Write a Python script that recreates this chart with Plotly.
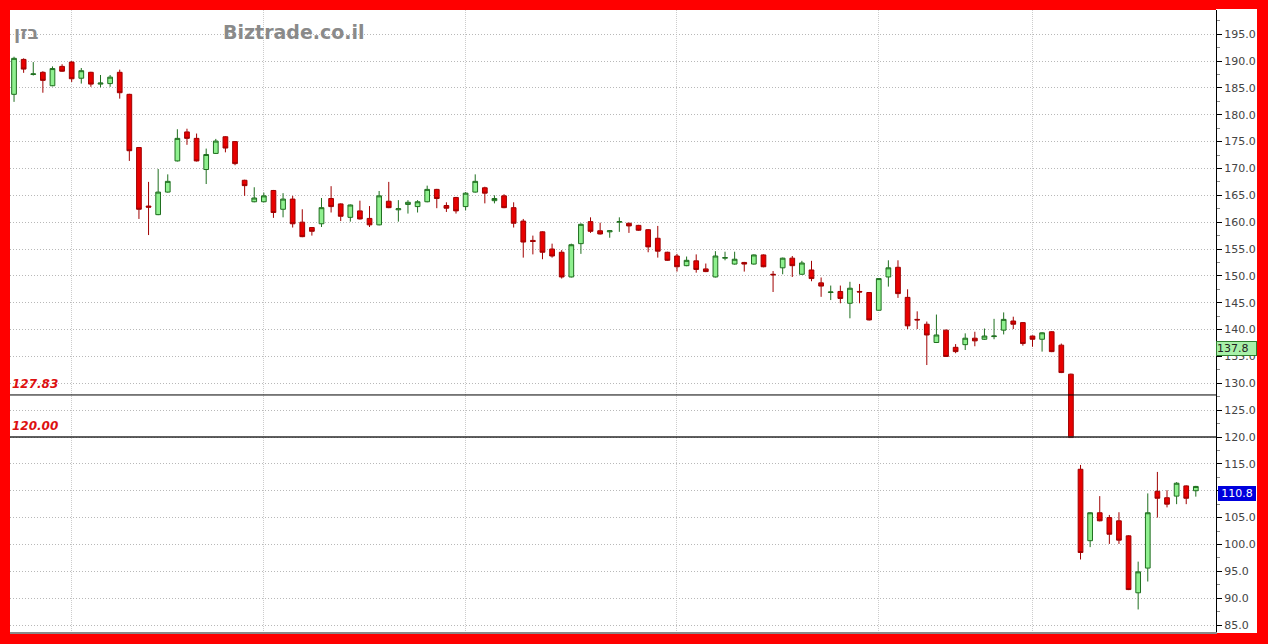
import plotly.graph_objects as go

# ---- data ----
opens = [183.8, 190.3, 187.5, 187.9, 185.4, 189.0, 189.8, 186.8, 187.9, 185.7,
         185.8, 187.9, 183.8, 173.9, 163.0, 161.4, 165.6, 171.4, 176.8, 175.6,
         169.8, 172.8, 175.9, 175.0, 167.8, 163.8, 163.8, 165.9, 162.4, 164.3,
         160.0, 159.0, 159.7, 164.4, 163.4, 160.9, 162.1, 160.7, 159.5, 163.9,
         162.3, 163.3, 162.9, 163.8, 166.1, 163.1, 164.6, 162.9, 165.6, 166.4,
         164.0, 164.9, 162.7, 160.2, 156.6, 158.2, 155.0, 154.4, 149.8, 156.0,
         160.1, 158.4, 158.2, 160.0, 159.8, 159.4, 158.6, 157.0, 154.4, 153.7,
         151.9, 152.8, 151.3, 149.8, 153.3, 152.2, 152.5, 152.2, 153.9, 150.3,
         151.5, 153.3, 150.3, 151.1, 148.7, 146.9, 147.1, 144.9, 147.1, 146.9,
         143.6, 149.8, 151.6, 146.0, 141.9, 141.0, 137.6, 139.9, 136.7, 137.2,
         138.4, 138.2, 138.7, 139.9, 141.6, 141.3, 138.8, 138.2, 139.6, 137.1,
         131.7, 114.0, 100.7, 105.9, 105.0, 104.4, 101.6, 91.0, 95.6, 109.9,
         108.7, 109.0, 110.9, 110.0]
highs = [190.8, 190.5, 189.8, 188.1, 189.0, 189.4, 190.0, 188.7, 188.0, 187.4,
         187.4, 188.4, 183.9, 174.0, 167.5, 169.9, 168.9, 177.3, 177.4, 176.5,
         173.7, 175.5, 176.0, 175.1, 167.9, 166.5, 165.5, 166.0, 165.4, 164.9,
         162.4, 159.1, 164.5, 166.7, 163.5, 163.3, 164.0, 163.0, 165.8, 167.5,
         164.1, 164.1, 164.1, 166.8, 166.2, 163.7, 164.7, 165.6, 168.9, 166.6,
         165.0, 165.2, 163.7, 160.6, 157.5, 158.3, 156.0, 154.8, 156.0, 159.8,
         160.9, 159.9, 158.5, 160.9, 159.9, 159.5, 158.7, 159.3, 154.5, 154.1,
         153.6, 154.0, 152.3, 154.6, 154.5, 154.5, 152.6, 154.0, 154.0, 150.9,
         153.4, 153.7, 152.8, 152.8, 149.7, 148.2, 148.2, 148.9, 148.5, 147.0,
         149.6, 152.9, 152.9, 147.5, 143.4, 141.5, 142.8, 140.0, 137.3, 139.3,
         139.6, 140.2, 142.0, 143.2, 142.4, 141.4, 138.9, 139.5, 139.7, 137.4,
         131.8, 114.8, 106.0, 109.0, 105.5, 106.0, 101.7, 96.8, 109.5, 113.5,
         110.1, 111.6, 111.0, 110.9]
lows = [182.4, 187.8, 187.3, 184.1, 185.3, 188.0, 186.1, 185.8, 185.2, 185.1,
        185.2, 183.0, 171.4, 160.6, 157.6, 161.3, 165.5, 171.3, 174.4, 171.3,
        167.1, 172.7, 173.0, 170.6, 164.9, 163.7, 163.7, 160.8, 160.9, 159.0,
        157.2, 157.5, 159.1, 161.8, 160.2, 160.1, 160.5, 159.1, 159.4, 162.6,
        160.1, 161.6, 161.8, 163.7, 162.6, 161.9, 161.6, 162.2, 165.5, 163.5,
        163.5, 162.6, 159.0, 153.4, 154.0, 153.1, 153.4, 149.5, 149.7, 154.1,
        158.0, 157.7, 157.1, 158.2, 158.0, 158.4, 154.4, 153.4, 152.8, 150.8,
        151.8, 150.6, 150.7, 149.7, 152.9, 152.1, 150.8, 152.1, 151.6, 147.0,
        150.3, 149.8, 150.2, 149.0, 146.1, 145.5, 144.9, 142.1, 144.9, 141.7,
        143.5, 148.0, 145.9, 140.1, 140.1, 133.4, 137.5, 134.9, 135.6, 136.2,
        136.9, 138.1, 138.2, 139.1, 140.1, 137.0, 136.8, 135.9, 135.8, 131.9,
        119.9, 97.2, 99.5, 104.3, 100.1, 100.1, 91.5, 87.9, 93.1, 105.0,
        106.9, 107.5, 107.5, 108.9]
closes = [190.5, 188.5, 187.6, 186.4, 188.6, 188.1, 186.7, 188.2, 185.7, 185.9,
          187.0, 184.1, 173.3, 162.4, 162.8, 165.6, 167.6, 175.6, 175.6, 171.4,
          172.6, 175.1, 173.8, 170.9, 166.8, 164.5, 164.9, 161.8, 164.3, 159.7,
          157.3, 158.3, 162.7, 162.9, 161.1, 163.2, 160.6, 159.5, 164.9, 162.7,
          162.5, 163.7, 163.8, 166.1, 164.4, 162.6, 162.1, 165.4, 167.6, 165.4,
          164.4, 162.7, 159.8, 156.3, 156.4, 154.4, 153.7, 149.8, 155.8, 159.6,
          158.3, 157.8, 158.4, 160.1, 159.3, 158.5, 155.4, 154.6, 152.9, 151.7,
          152.9, 151.2, 150.8, 153.7, 153.4, 153.1, 152.2, 153.9, 151.7, 150.2,
          153.3, 151.9, 152.4, 149.5, 148.1, 147.0, 145.8, 147.7, 147.0, 141.8,
          149.5, 151.5, 146.7, 140.7, 141.8, 139.0, 139.0, 135.0, 135.9, 138.4,
          137.9, 138.8, 138.8, 141.9, 141.0, 137.4, 138.2, 139.4, 135.9, 132.0,
          119.9, 98.5, 105.9, 104.4, 101.9, 100.8, 91.6, 94.9, 105.9, 108.6,
          107.5, 111.4, 108.6, 110.8]
days = list(range(len(closes)))

month_starts = [6, 26, 47, 69, 90, 106]     # vertical grid positions (bar index)
levels = [127.83, 120.00]                    # horizontal reference lines
level_labels = ["127.83", "120.00"]
ref_price = 137.8                            # green price tag
last_price = closes[-1]                      # blue price tag
stock_name = "בזן"
site_name = "Biztrade.co.il"

W, H = 1268, 644
ML, MR, MT, MB = 10, 52, 10, 12
PW = W - ML - MR
PH = H - MT - MB

fig = go.Figure()
fig.add_trace(go.Candlestick(
    x=days, open=opens, high=highs, low=lows, close=closes,
    increasing=dict(fillcolor="#8ff08f", line=dict(color="#1f6f1f", width=1)),
    decreasing=dict(fillcolor="#e80000", line=dict(color="#a00000", width=1)),
    whiskerwidth=0, showlegend=False, hoverinfo="skip",
))

shapes = [
    # white strip behind the right axis labels
    dict(type="rect", xref="paper", yref="paper", x0=1, x1=1 + 41 / PW,
         y0=-1 / PH, y1=1 + 1 / PH, fillcolor="white", line=dict(width=0),
         layer="below"),
]
for i, lv in enumerate(levels):
    shapes.append(dict(type="line", xref="paper", yref="y", x0=0, x1=1,
                       y0=lv, y1=lv,
                       line=dict(color="#000000" if i == 0 else "#2a2a2a",
                                 width=1 if i == 0 else 1.5)))

annotations = []
for lv, lab in zip(levels, level_labels):
    annotations.append(dict(xref="paper", yref="y", x=0, y=lv, text=lab,
                            showarrow=False, xanchor="left", yanchor="bottom",
                            yshift=2, xshift=0,
                            font=dict(family="DejaVu Sans", size=12,
                                      color="#dd1111", weight="bold",
                                      style="italic")))
annotations.append(dict(xref="paper", yref="y", x=1, y=ref_price,
                        text=f"{ref_price:.1f}", showarrow=False,
                        xanchor="left", yanchor="top", xshift=0,
                        bgcolor="#a8f0a8", bordercolor="#2f7f2f", borderwidth=1,
                        borderpad=0, width=39, align="left",
                        font=dict(family="DejaVu Sans", size=11, color="#222222")))
annotations.append(dict(xref="paper", yref="y", x=1, y=last_price,
                        text=f"{last_price:.1f}", showarrow=False,
                        xanchor="left", yanchor="top", xshift=2,
                        bgcolor="#0000dd", borderwidth=0,
                        borderpad=1, width=36, align="center",
                        font=dict(family="DejaVu Sans", size=11, color="white")))
annotations.append(dict(xref="paper", yref="paper", x=2 / PW, y=1 - 23 / PH,
                        text=stock_name, showarrow=False, xanchor="left",
                        yanchor="middle",
                        font=dict(family="DejaVu Sans", size=18,
                                  color="#8a8a8a", weight="bold")))
annotations.append(dict(xref="paper", yref="paper", x=(294 - ML) / PW,
                        y=1 - 22 / PH, text=site_name, showarrow=False,
                        xanchor="center", yanchor="middle",
                        font=dict(family="DejaVu Sans", size=19,
                                  color="#8a8a8a", weight="bold")))

fig.update_layout(
    width=W, height=H,
    margin=dict(l=ML, r=MR, t=MT, b=MB),
    paper_bgcolor="#ff0000", plot_bgcolor="white",
    shapes=shapes, annotations=annotations,
    showlegend=False,
    xaxis=dict(range=[-0.42, 125.1], tickvals=month_starts,
               showticklabels=False, ticks="", showgrid=True,
               gridcolor="#cccccc", griddash="1px,1px", gridwidth=1,
               zeroline=False, showline=True, linecolor="#8a8a8a",
               linewidth=1.5, rangeslider=dict(visible=False),
               fixedrange=True),
    yaxis=dict(side="right", range=[83.7, 199.5], dtick=5, tick0=0,
               tickformat=".1f", ticks="outside", ticklen=5,
               tickcolor="#000000", tickwidth=1,
               showline=True, linecolor="#000000", linewidth=1,
               showgrid=True, gridcolor="#b8b8b8", griddash="1px,2px",
               zeroline=False,
               tickfont=dict(family="DejaVu Sans", size=11, color="#444444"),
               minor=dict(dtick=2.5, ticks="outside", ticklen=3,
                          tickcolor="#888888", showgrid=False),
               fixedrange=True),
)

fig.write_html(
    "out.html",
    config={"displayModeBar": False},
    post_script="document.body.style.margin='0';"
                "document.body.style.overflow='hidden';"
                "document.body.style.background='#ff0000';",
)
